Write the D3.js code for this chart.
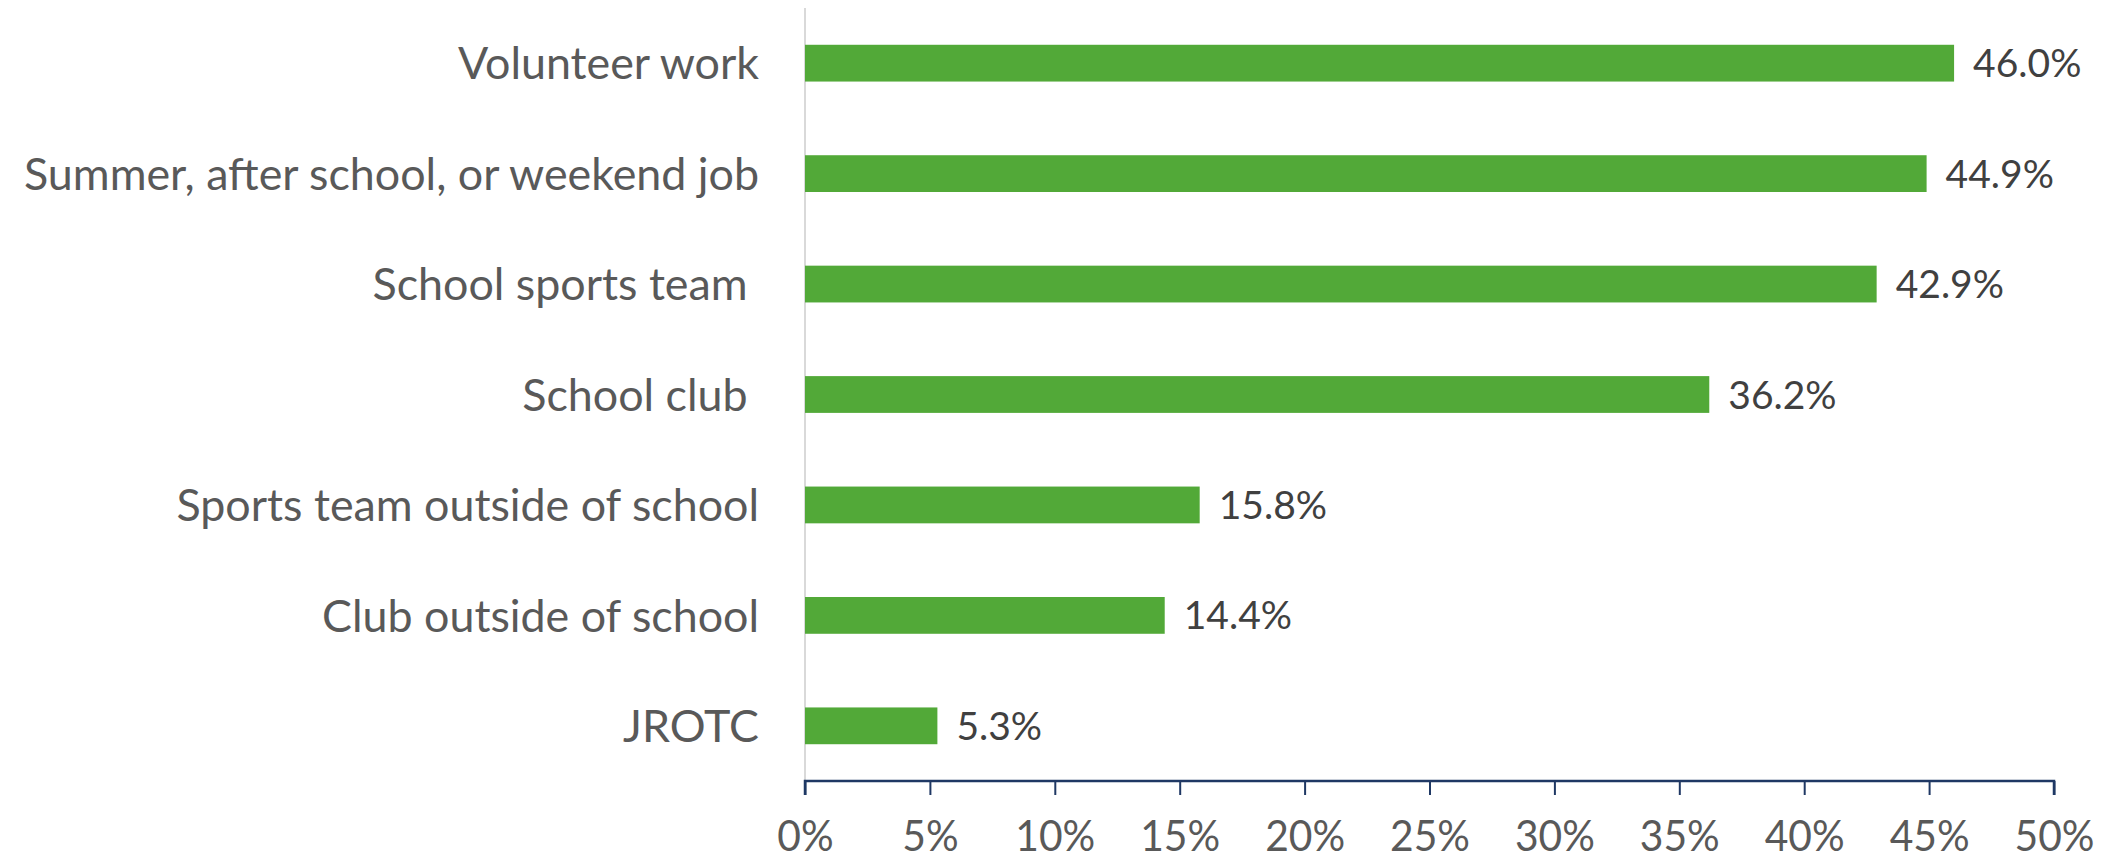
<!DOCTYPE html>
<html><head><meta charset="utf-8">
<script src="https://cdn.jsdelivr.net/npm/d3@7"></script>
<style>
html,body{margin:0;padding:0;background:#fff;}
svg text{white-space:pre;}
</style></head>
<body><svg id="c" width="2121" height="861"></svg>
<script>
const categories = ["Volunteer work","Summer, after school, or weekend job","School sports team ","School club ","Sports team outside of school","Club outside of school","JROTC"];
const values = [46.0,44.9,42.9,36.2,15.8,14.4,5.3];
const valueLabels = ["46.0%","44.9%","42.9%","36.2%","15.8%","14.4%","5.3%"];
const tickValues = [0,5,10,15,20,25,30,35,40,45,50];
const tickLabels = ["0%","5%","10%","15%","20%","25%","30%","35%","40%","45%","50%"];

(function(){
const svg = d3.select("#c");
const font = "Lato, 'Open Sans', sans-serif";
const mL = 805, mR = 2054, mT = 8, mB = 781;

// horizontal compression factor so a sample string has a given rendered width
function squeeze(sample, size, target){
  const t = svg.append("text").attr("font-family",font).attr("font-size",size).text(sample);
  const w = t.node().getComputedTextLength(); t.remove();
  return Math.min(1, target / w);
}
const sCat = squeeze("Volunteer work", 45, 301);
const sVal = squeeze("46.0%", 39, 115);
const sTick = squeeze("50%", 43, 80);

const x = d3.scaleLinear().domain([0,50]).range([mL,mR]);
const y = d3.scaleBand().domain(categories).range([mT,mB]).paddingInner(0.667).paddingOuter(0.333);

svg.append("line").attr("x1",mL).attr("x2",mL).attr("y1",mT).attr("y2",mB)
  .attr("stroke","#d9d9d9").attr("stroke-width",2);

svg.selectAll("rect.bar").data(values).join("rect").attr("class","bar")
  .attr("x",x(0)).attr("y",(d,i)=>y(categories[i]))
  .attr("width",d=>x(d)-x(0)).attr("height",y.bandwidth())
  .attr("fill","#52a938");

svg.selectAll("text.val").data(values).join("text").attr("class","val")
  .attr("transform",(d,i)=>`translate(${x(d)+19},${y(categories[i])+y.bandwidth()/2}) scale(${sVal},1)`)
  .attr("dy","0.36em").attr("font-family",font).attr("font-size",39)
  .attr("fill","#404040").text((d,i)=>valueLabels[i]);

svg.selectAll("text.cat").data(categories).join("text").attr("class","cat")
  .attr("transform",d=>`translate(${mL-46},${y(d)+y.bandwidth()/2}) scale(${sCat},1)`)
  .attr("dy","0.36em")
  .attr("text-anchor","end").attr("font-family",font).attr("font-size",45)
  .attr("fill","#595959").text(d=>d);

const xAxis = d3.axisBottom(x).tickValues(tickValues).tickSize(14).tickPadding(25)
  .tickFormat((d,i)=>tickLabels[i]);
const ax = svg.append("g").attr("transform",`translate(0,${mB})`).call(xAxis);
ax.select(".domain").attr("stroke","#1f3864").attr("stroke-width",2.5)
  .attr("d",`M${mL},14V0H${mR}V14`);
ax.selectAll(".tick line").attr("stroke","#1f3864").attr("stroke-width",2);
ax.selectAll(".tick text").attr("font-family",font).attr("font-size",43).attr("fill","#595959")
  .attr("transform",`scale(${sTick},1)`);
})();
</script></body></html>
